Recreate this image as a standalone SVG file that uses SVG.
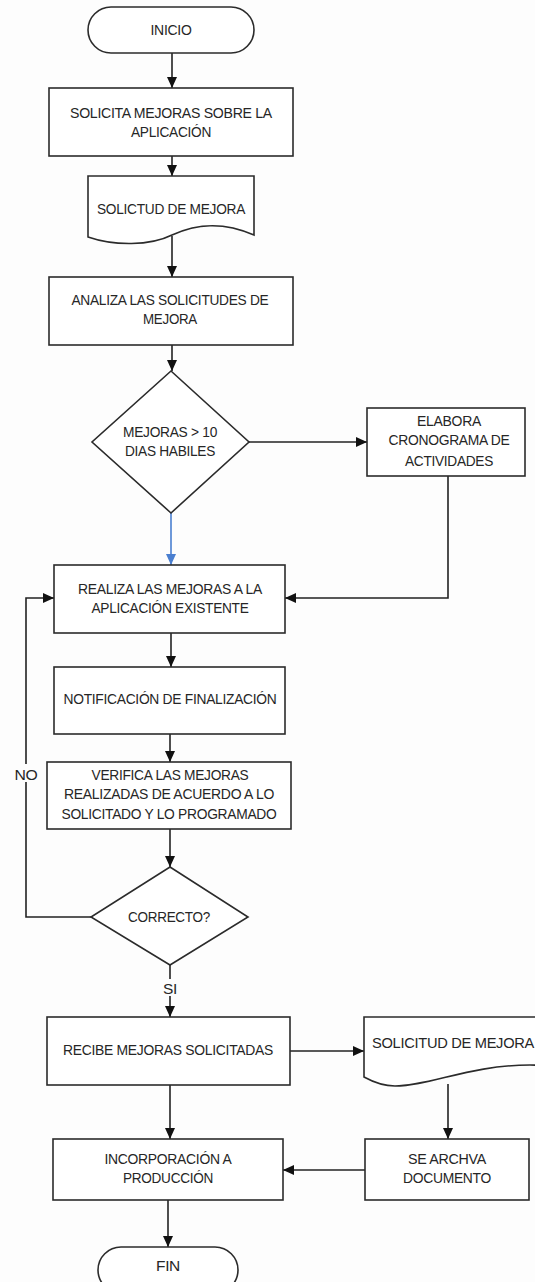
<svg xmlns="http://www.w3.org/2000/svg" width="535" height="1282" viewBox="0 0 535 1282">
<style>
.s{fill:#fff;stroke:#2b2b2b;stroke-width:1.6}
.t{font-family:"Liberation Sans Narrow","Liberation Sans",Arial,sans-serif;font-size:14.5px;fill:#262626;text-anchor:middle;letter-spacing:-0.3px}
.c{fill:none;stroke:#222;stroke-width:1.6}
.b{fill:none;stroke:#4a7fd0;stroke-width:1.6}
</style>
<defs>
<marker id="a" markerUnits="userSpaceOnUse" markerWidth="12" markerHeight="12" refX="11" refY="5" orient="auto" viewBox="0 0 12 10"><path d="M0,0 L11,5 L0,10 z" fill="#111"/></marker>
<marker id="ab" markerUnits="userSpaceOnUse" markerWidth="12" markerHeight="12" refX="11" refY="5" orient="auto" viewBox="0 0 12 10"><path d="M0,0 L11,5 L0,10 z" fill="#4a7fd0"/></marker>
</defs>
<rect width="535" height="1282" fill="#fdfdfd"/>
<g id="connectors">
<path class="c" d="M172,53 V88" marker-end="url(#a)"/>
<path class="c" d="M172,156 V176" marker-end="url(#a)"/>
<path class="c" d="M172,236 V277" marker-end="url(#a)"/>
<path class="c" d="M172,345 V371" marker-end="url(#a)"/>
<path class="c" d="M249,442 H367" marker-end="url(#a)"/>
<path class="b" d="M171,513 V565" marker-end="url(#ab)"/>
<path class="c" d="M448,476 V598 H285" marker-end="url(#a)"/>
<path class="c" d="M171,633 V667" marker-end="url(#a)"/>
<path class="c" d="M170,734 V762" marker-end="url(#a)"/>
<path class="c" d="M170,829 V867" marker-end="url(#a)"/>
<path class="c" d="M91,917 H26 V598 H54" marker-end="url(#a)"/>
<rect x="10" y="764" width="32" height="18" fill="#fdfdfd"/>
<text class="t" x="26" y="780" textLength="23" lengthAdjust="spacingAndGlyphs">NO</text>
<path class="c" d="M170,965 V1017" marker-end="url(#a)"/>
<rect x="160" y="979" width="20" height="17" fill="#fdfdfd"/>
<text class="t" x="170" y="994" textLength="14" lengthAdjust="spacingAndGlyphs">SI</text>
<path class="c" d="M290,1051 H364" marker-end="url(#a)"/>
<path class="c" d="M170,1085 V1139" marker-end="url(#a)"/>
<path class="c" d="M448,1084 V1139" marker-end="url(#a)"/>
<path class="c" d="M365,1170 H283" marker-end="url(#a)"/>
<path class="c" d="M168,1200 V1247" marker-end="url(#a)"/>
</g>
<g id="inicio">
<rect class="s" x="88" y="7" width="166" height="46" rx="23"/>
<text class="t" x="171" y="35" textLength="41" lengthAdjust="spacingAndGlyphs">INICIO</text>
</g>
<g id="solicita">
<rect class="s" x="49" y="88" width="244" height="68"/>
<text class="t" x="171" y="118" textLength="202" lengthAdjust="spacingAndGlyphs">SOLICITA  MEJORAS SOBRE LA</text>
<text class="t" x="171" y="137" textLength="80" lengthAdjust="spacingAndGlyphs">APLICACIÓN</text>
</g>
<g id="doc1">
<path class="s" d="M88,176 H254 V235 C222,221 196,224 172,235 C150,246 114,246 88,237 Z"/>
<text class="t" x="171" y="214" textLength="148" lengthAdjust="spacingAndGlyphs">SOLICTUD DE MEJORA</text>
</g>
<g id="analiza">
<rect class="s" x="49" y="277" width="244" height="68"/>
<text class="t" x="170" y="305" textLength="197" lengthAdjust="spacingAndGlyphs">ANALIZA LAS SOLICITUDES DE</text>
<text class="t" x="170" y="324" textLength="54" lengthAdjust="spacingAndGlyphs">MEJORA</text>
</g>
<g id="dec1">
<polygon class="s" points="171,371 249,442 171,513 92,442"/>
<text class="t" x="170" y="437" textLength="94" lengthAdjust="spacingAndGlyphs">MEJORAS &gt; 10</text>
<text class="t" x="170" y="456" textLength="90" lengthAdjust="spacingAndGlyphs">DIAS HABILES</text>
</g>
<g id="elabora">
<rect class="s" x="367" y="408" width="158" height="68"/>
<text class="t" x="449" y="426" textLength="64" lengthAdjust="spacingAndGlyphs">ELABORA</text>
<text class="t" x="449" y="445" textLength="121" lengthAdjust="spacingAndGlyphs">CRONOGRAMA DE</text>
<text class="t" x="449" y="466" textLength="88" lengthAdjust="spacingAndGlyphs">ACTIVIDADES</text>
</g>
<g id="realiza">
<rect class="s" x="54" y="565" width="231" height="68"/>
<text class="t" x="170" y="594" textLength="184" lengthAdjust="spacingAndGlyphs">REALIZA LAS MEJORAS A LA</text>
<text class="t" x="170" y="613" textLength="157" lengthAdjust="spacingAndGlyphs">APLICACIÓN EXISTENTE</text>
</g>
<g id="notif">
<rect class="s" x="54" y="667" width="231" height="67"/>
<text class="t" x="170" y="704" textLength="213" lengthAdjust="spacingAndGlyphs">NOTIFICACIÓN DE FINALIZACIÓN</text>
</g>
<g id="verifica">
<rect class="s" x="47" y="762" width="244" height="67"/>
<text class="t" x="170" y="780" textLength="157" lengthAdjust="spacingAndGlyphs">VERIFICA LAS MEJORAS</text>
<text class="t" x="169" y="799" textLength="210" lengthAdjust="spacingAndGlyphs">REALIZADAS DE ACUERDO A LO</text>
<text class="t" x="169" y="819" textLength="215" lengthAdjust="spacingAndGlyphs">SOLICITADO Y LO PROGRAMADO</text>
</g>
<g id="dec2">
<polygon class="s" points="170,867 248,917 170,965 91,917"/>
<text class="t" x="169" y="922" textLength="82" lengthAdjust="spacingAndGlyphs">CORRECTO?</text>
</g>
<g id="recibe">
<rect class="s" x="47" y="1017" width="243" height="68"/>
<text class="t" x="168" y="1055" textLength="210" lengthAdjust="spacingAndGlyphs">RECIBE MEJORAS SOLICITADAS</text>
</g>
<g id="doc2">
<path class="s" d="M364,1077 C375,1083 385,1086 395,1086 C430,1086 470,1065 530,1065 C545,1065 555,1068 560,1070 V1017 H364 Z"/>
<text class="t" x="453" y="1048" textLength="162" lengthAdjust="spacingAndGlyphs">SOLICITUD DE MEJORA</text>
</g>
<g id="archiva">
<rect class="s" x="365" y="1139" width="164" height="61"/>
<text class="t" x="447" y="1164" textLength="78" lengthAdjust="spacingAndGlyphs">SE ARCHVA</text>
<text class="t" x="447" y="1183" textLength="88" lengthAdjust="spacingAndGlyphs">DOCUMENTO</text>
</g>
<g id="incorporacion">
<rect class="s" x="53" y="1139" width="230" height="61"/>
<text class="t" x="168" y="1164" textLength="127" lengthAdjust="spacingAndGlyphs">INCORPORACIÓN A</text>
<text class="t" x="168" y="1183" textLength="90" lengthAdjust="spacingAndGlyphs">PRODUCCIÓN</text>
</g>
<g id="fin">
<rect class="s" x="98" y="1247" width="140" height="46" rx="23"/>
<text class="t" x="168" y="1271" textLength="24" lengthAdjust="spacingAndGlyphs">FIN</text>
</g>
</svg>
